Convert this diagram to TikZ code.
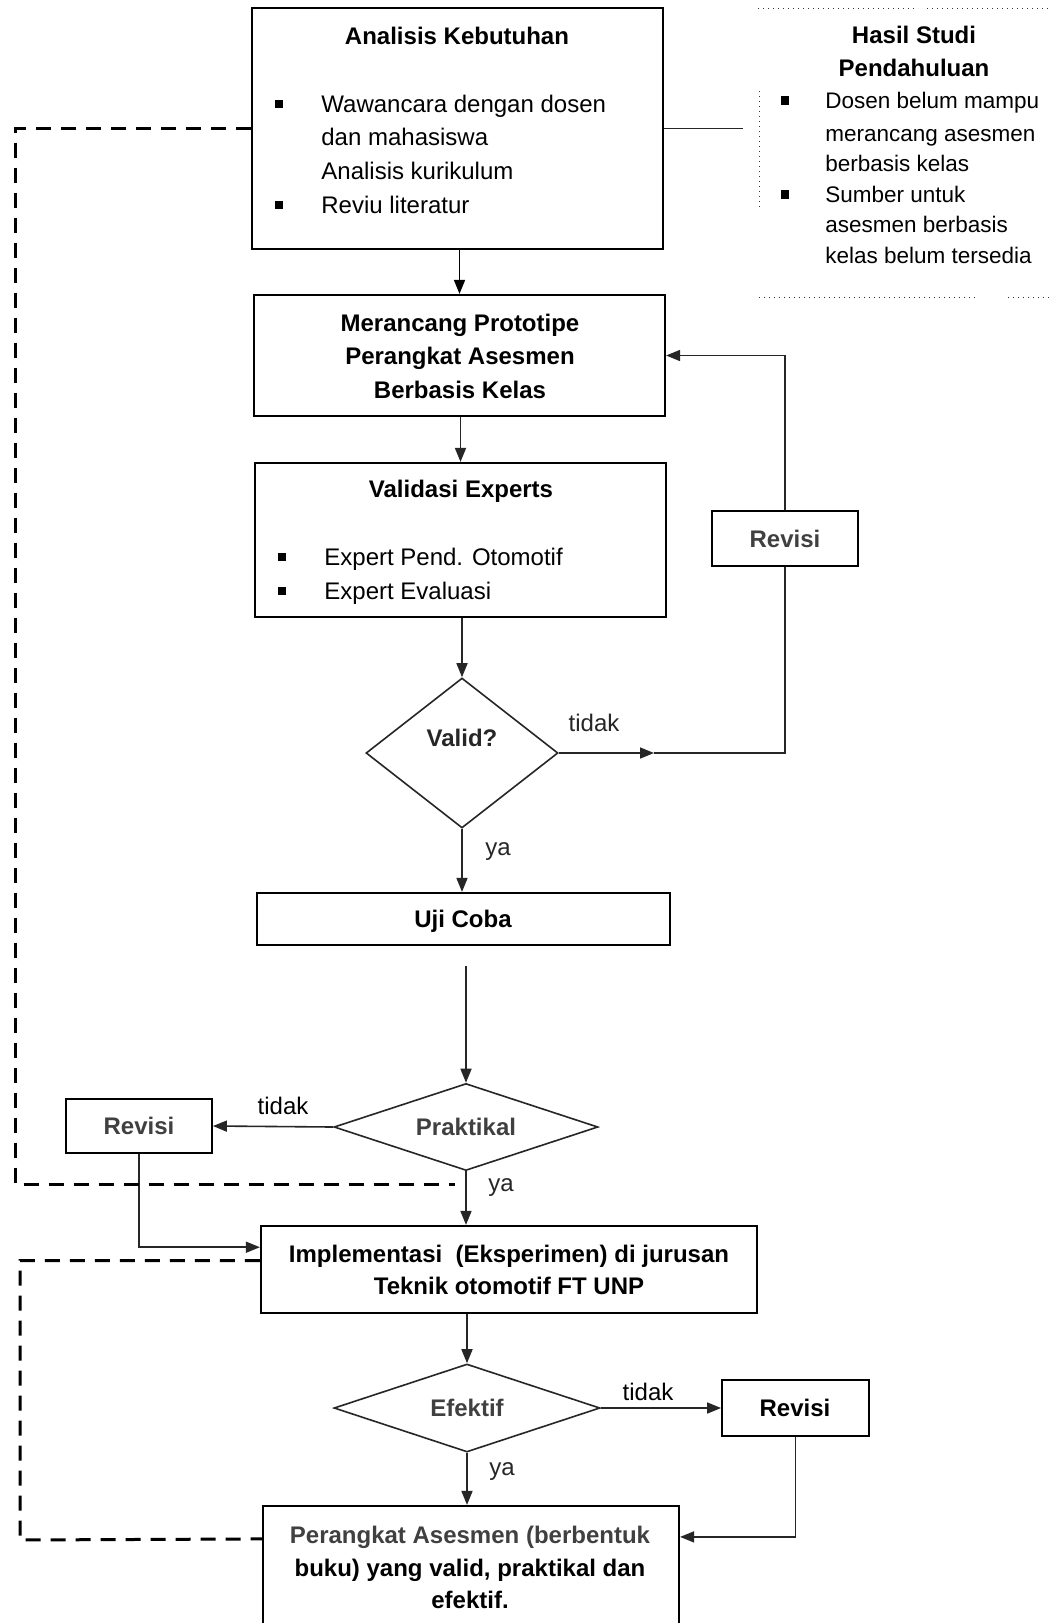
\documentclass[tikz,border=0pt]{standalone}
\usepackage{fontspec}
\setmainfont{Liberation Sans}
\usetikzlibrary{arrows.meta,shapes.geometric,fit,calc}
\begin{document}
\begin{tikzpicture}[x=0.5pt,y=-0.5pt,
  box/.style={draw=black,line width=1.1pt,inner sep=0pt,fill=white},
  dia/.style={diamond,draw=black!85,line width=0.8pt,inner sep=0pt,fill=white},
  conn/.style={draw=black!85,line width=0.8pt},
  arr/.style={conn,-{Triangle[length=7pt,width=5.5pt]}},
  dashconn/.style={draw=black,line width=1.5pt,dash pattern=on 7.5pt off 5pt},
  hsline/.style={draw=black!80,line width=0.5pt,dotted},
  head/.style={font=\fontsize{12}{14}\selectfont\bfseries,inner sep=0pt,text height=8.6pt,text depth=0pt},
  body/.style={font=\fontsize{12}{14}\selectfont,inner sep=0pt,anchor=west,text height=8.6pt,text depth=0pt},
  small/.style={font=\fontsize{11.25}{13}\selectfont,inner sep=0pt,anchor=west,text height=8.1pt,text depth=0pt},
  lbl/.style={font=\fontsize{12}{14}\selectfont,inner sep=0pt,text height=8.6pt,text depth=0pt,text=black!85},
]
\useasboundingbox (0,0) rectangle (1050,1623);
\clip (0,0) rectangle (1050,1623);
\fill[white] (0,0) rectangle (1050,1623);

% ---------- Analisis Kebutuhan ----------
\node[box, fit={(252,8)(663,249)}] (b1) {};
\node[head] (b1h) at (457,36) {Analisis Kebutuhan};
\fill (275,100) rectangle (283,108);
\node[body] (b1t1) at (321,104) {Wawancara dengan dosen};
\node[body] (b1t2) at (321,137) {dan mahasiswa};
\node[body] (b1t3) at (321,171) {Analisis kurikulum};
\fill (275,201) rectangle (283,209);
\node[body] (b1t4) at (321,205) {Reviu literatur};

% ---------- Hasil Studi Pendahuluan ----------
\draw[hsline] (758,8) -- (918,8) (927,8) -- (1050,8);
\draw[hsline] (759,91) -- (759,207);
\draw[hsline] (759,297) -- (977,297) (1008,297) -- (1050,297);
\node[head] (hs1) at (914,35) {Hasil Studi};
\node[head] (hs2) at (914,68) {Pendahuluan};
\fill (781,96) rectangle (789,105);
\node[small] (hst1) at (825,100) {Dosen belum mampu};
\node[small] (hst2) at (825,133) {merancang asesmen};
\node[small] (hst3) at (825,163) {berbasis kelas};
\fill (781,190) rectangle (789,199);
\node[small] (hst4) at (825,194) {Sumber untuk};
\node[small] (hst5) at (825,224) {asesmen berbasis};
\node[small] (hst6) at (825,255) {kelas belum tersedia};
\coordinate (hsin) at (743,128.5);
\draw[conn] (b1.east) -- (hsin);

% ---------- Merancang Prototipe ----------
\node[box, fit={(254,295)(665,416)}] (b2) {};
\node[head] (b2a) at (460,323) {Merancang Prototipe};
\node[head] (b2b) at (460,356) {Perangkat Asesmen};
\node[head] (b2c) at (460,390) {Berbasis Kelas};

% ---------- Validasi Experts ----------
\node[box, fit={(255,463)(666,617)}] (b3) {};
\node[head] (b3h) at (461,489) {Validasi Experts};
\fill (278,553) rectangle (286,561);
\node[body] (b3t1) at (324,557) {Expert Pend. Otomotif};
\fill (278,587) rectangle (286,595);
\node[body] (b3t2) at (324,591) {Expert Evaluasi};

% ---------- Valid? ----------
\node[dia, minimum width=96pt, minimum height=75pt] (valid) at (462,753) {};
\node[head, text=black!85] (validt) at (462,738) {Valid?};

% ---------- Revisi (upper) ----------
\node[box, line width=0.9pt, fit={(712,511)(858,566)}] (rev1) {};
\node[head, text=black!75] (rev1t) at (785,539) {Revisi};

% ---------- Uji Coba ----------
\node[box, fit={(257,893)(670,945)}] (uji) {};
\node[head] (ujit) at (463,919) {Uji Coba};

% ---------- Praktikal ----------
\node[dia, minimum width=132pt, minimum height=43.5pt] (prak) at (466,1127) {};
\node[head, text=black!75] (prakt) at (466,1127) {Praktikal};

% ---------- Revisi (left) ----------
\node[box, line width=0.9pt, fit={(66,1099)(212,1153)}] (rev2) {};
\node[head, text=black!75] (rev2t) at (139,1126) {Revisi};

% ---------- Implementasi ----------
\node[box, fit={(261,1226)(757,1313)}] (impl) {};
\node[head] (impla) at (509,1254) {Implementasi\ \ (Eksperimen) di jurusan};
\node[head] (implb) at (509,1286) {Teknik otomotif FT UNP};

% ---------- Efektif ----------
\node[dia, minimum width=133pt, minimum height=44pt] (efek) at (467,1408) {};
\node[head, text=black!75] (efekt) at (467,1408) {Efektif};

% ---------- Revisi (right) ----------
\node[box, line width=0.9pt, fit={(722,1380)(869,1436)}] (rev3) {};
\node[head] (rev3t) at (795,1408) {Revisi};

% ---------- Final ----------
\node[box, fit={(263,1506)(679,1660)}] (fin) {};
\node[head, text=black!75] (fina) at (470,1535) {Perangkat Asesmen (berbentuk};
\node[head] (finb) at (470,1568) {buku) yang valid, praktikal dan};
\node[head] (finc) at (470,1600) {efektif.};

% ---------- connectors ----------
\draw[arr, draw=black] (b2.north |- b1.south) -- (b2.north);
\draw[arr] (b3.north |- b2.south) -- (b3.north);
\draw[arr] (valid.north |- b3.south) -- (valid.north);
\draw[arr] (valid.south) -- (valid.south |- uji.north);

\coordinate (vmid) at (654,753);
\draw[arr] (valid.east) -- (vmid);
\draw[conn] (vmid) -- (rev1.center |- valid.east) -- (rev1.south);
\draw[arr] (rev1.north) |- (b2.east);

\coordinate (ujiout) at (466,966);
\draw[arr] (ujiout) -- (prak.north);
\draw[arr] (prak.west) -- (rev2.east);
\draw[arr] (prak.south) -- (prak.south |- impl.north);
\draw[arr] (rev2.south) |- ($(impl.north west)!0.25!(impl.south west)$);

\draw[arr] (efek.north |- impl.south) -- (efek.north);
\draw[arr] (efek.east) -- (rev3.west);
\draw[arr] (efek.south) -- (efek.south |- fin.north);
\draw[arr] (rev3.south) |- ($(fin.north east)+(0,32)$);

% dashed feedback lines
\coordinate (d1end) at (455,1184);
\draw[dashconn] (b1.west) -| (15,1184) -- (d1end);
\draw[dashconn] ($(impl.north west)!0.4!(impl.south west)$) -| (20,1540) -- ($(fin.north west)+(0,34)$);

% labels
\node[lbl] (l1) at (594,723) {tidak};
\node[lbl] (l2) at (498,847) {ya};
\node[lbl, text=black] (l3) at (283,1106) {tidak};
\node[lbl] (l4) at (501,1183) {ya};
\node[lbl, text=black] (l5) at (648,1392) {tidak};
\node[lbl] (l6) at (502,1467) {ya};
\end{tikzpicture}
\end{document}
